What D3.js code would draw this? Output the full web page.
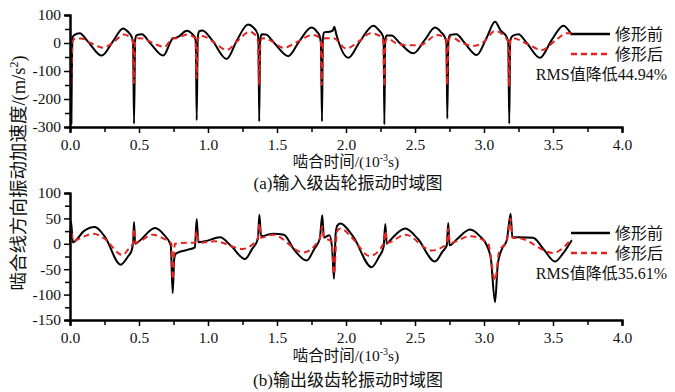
<!DOCTYPE html>
<html>
<head>
<meta charset="utf-8">
<script src="https://cdn.jsdelivr.net/npm/d3@7"></script>
<style>
  body { margin: 0; background: #fff; }
  text { font-family: "Liberation Serif", "Noto Sans CJK SC", serif; fill: #111; }
</style>
</head>
<body>
<svg id="chart" width="675" height="392"></svg>
<script>
// ---- data (t in 10^-3 s, acceleration in m/s^2) ----
var inputBefore = [
  [0.010, -290], [0.018, 20], [0.03, 28], [0.07, 35], [0.13, 5], [0.23, -45], [0.31, 5],
  [0.385, 52], [0.42, 40], [0.447, 22], [0.457, 0], [0.464, -288], [0.472, 10], [0.483, 28],
  [0.52, 31], [0.58, 0], [0.676, -45], [0.73, 5], [0.745, 17], [0.765, 18], [0.79, 24],
  [0.845, 44], [0.89, 30], [0.905, 20], [0.912, 0], [0.918, -276], [0.926, 20], [0.937, 42],
  [0.96, 45], [1.03, 10], [1.135, -57], [1.21, 10], [1.29, 66], [1.33, 55], [1.36, 32],
  [1.366, 0], [1.371, -280], [1.378, 10], [1.389, 31], [1.42, 30], [1.48, 0], [1.582, -47],
  [1.66, 5], [1.75, 55], [1.79, 40], [1.81, 24], [1.818, 0], [1.826, -280], [1.832, 10],
  [1.84, 38], [1.88, 40], [1.905, 45], [1.915, 58], [1.93, 30], [2.017, -53], [2.1, 5],
  [2.198, 62], [2.24, 45], [2.268, 24], [2.273, 0], [2.278, -291], [2.284, 10], [2.295, 27],
  [2.33, 27], [2.39, 0], [2.488, -37], [2.57, 10], [2.645, 55], [2.69, 38], [2.715, 22],
  [2.728, 0], [2.734, -270], [2.742, 10], [2.754, 29], [2.8, 31], [2.86, 0], [2.947, -43],
  [3.02, 20], [3.08, 76], [3.12, 45], [3.164, 22], [3.176, 0], [3.183, -288], [3.19, 10],
  [3.21, 26], [3.25, 31], [3.31, 0], [3.406, -53], [3.49, 10], [3.575, 62], [3.636, 29]
];

var inputAfter = [
  [0.010, -145], [0.018, 5], [0.035, 15], [0.08, 16], [0.15, 0], [0.24, -17], [0.32, 5],
  [0.39, 30], [0.44, 18], [0.455, 5], [0.463, -143], [0.472, 5], [0.49, 17], [0.53, 16],
  [0.6, 0], [0.685, -14], [0.74, 16], [0.77, 17], [0.85, 30], [0.9, 20], [0.91, 5],
  [0.917, -125], [0.926, 10], [0.94, 27], [0.98, 22], [1.05, 0], [1.135, -25], [1.22, 10],
  [1.3, 40], [1.35, 25], [1.362, 5], [1.37, -150], [1.38, 5], [1.395, 17], [1.44, 12],
  [1.55, -17], [1.65, 5], [1.76, 29], [1.81, 18], [1.818, 5], [1.825, -150], [1.834, 5],
  [1.85, 17], [1.91, 17], [2.0, -20], [2.09, 5], [2.18, 35], [2.26, 20], [2.27, 5],
  [2.277, -155], [2.286, 5], [2.3, 17], [2.36, 0], [2.45, -8], [2.54, -7], [2.66, 29],
  [2.72, 18], [2.727, 5], [2.733, -150], [2.742, 5], [2.76, 22], [2.84, 0], [2.93, -10],
  [3.0, 5], [3.08, 43], [3.15, 22], [3.175, 5], [3.182, -155], [3.19, 5], [3.21, 17],
  [3.3, 0], [3.42, -25], [3.52, 10], [3.6, 35], [3.636, 35]
];

var outputBefore = [
  [0.000, 2], [0.008, 44], [0.02, 3], [0.035, 5], [0.1, 25], [0.18, 33], [0.25, 15],
  [0.367, -41], [0.42, -25], [0.447, -13], [0.458, 5], [0.464, 43], [0.472, 0], [0.5, 5],
  [0.616, 31], [0.68, 18], [0.73, -3], [0.744, -97], [0.755, -30], [0.765, -20],
  [0.785, -17], [0.85, -12], [0.905, -7], [0.918, 49], [0.93, 3], [0.98, 5], [1.087, 13],
  [1.17, -5], [1.268, -30], [1.32, -10], [1.362, 10], [1.372, 57], [1.385, 15], [1.473, 20],
  [1.55, 18], [1.62, -10], [1.715, -33], [1.77, -10], [1.81, 10], [1.828, 56], [1.84, 12],
  [1.88, 17], [1.9, -10], [1.913, -69], [1.925, 20], [1.937, 36], [1.96, 40], [2.05, 15],
  [2.186, -46], [2.24, -25], [2.272, -7], [2.285, 39], [2.295, 0], [2.32, 7], [2.43, 30],
  [2.52, 10], [2.645, -35], [2.7, -15], [2.73, -3], [2.741, 41], [2.75, -3], [2.8, 8],
  [2.899, 28], [2.97, 15], [3.02, -3], [3.05, -30], [3.08, -115], [3.1, -40], [3.13, -10],
  [3.165, 7], [3.193, 59], [3.205, 13], [3.25, 13], [3.356, 12], [3.43, -10], [3.514, -35],
  [3.57, -20], [3.636, 7]
];

var outputAfter = [
  [0.000, 0], [0.008, 30], [0.02, 5], [0.05, 8], [0.17, 20], [0.25, 10], [0.38, -22],
  [0.43, -8], [0.455, 0], [0.464, 30], [0.475, 2], [0.6, 18], [0.68, 10], [0.735, 0],
  [0.744, -70], [0.76, 0], [0.85, 2], [0.905, 2], [0.918, 25], [0.935, 2], [1.05, 5],
  [1.25, -10], [1.36, 10], [1.372, 40], [1.385, 12], [1.47, 18], [1.69, -17], [1.81, 10],
  [1.828, 35], [1.84, 12], [1.895, 5], [1.913, -60], [1.935, 25], [1.96, 30], [2.05, 10],
  [2.17, -24], [2.272, 0], [2.285, 25], [2.3, 2], [2.43, 18], [2.62, -13], [2.73, 0],
  [2.741, 30], [2.752, 2], [2.9, 15], [3.03, 0], [3.08, -72], [3.11, -15], [3.165, 5],
  [3.193, 50], [3.205, 12], [3.26, 11], [3.5, -18], [3.636, 10]
];

var xTicks = [0, 0.5, 1.0, 1.5, 2.0, 2.5, 3.0, 3.5, 4.0];
var xMinorTicks = [0.25, 0.75, 1.25, 1.75, 2.25, 2.75, 3.25, 3.75];
var topYTicks = [100, 0, -100, -200, -300];
var topYMinorTicks = [50, -50, -150, -250];
var bottomYTicks = [100, 50, 0, -50, -100, -150];
var bottomYMinorTicks = [75, 25, -25, -75, -125];
var seriesNames = ['修形前', '修形后'];

var RED = '#e3231f';

var svg = d3.select('#chart');

var x = d3.scaleLinear().domain([0, 4]).range([70, 622]);

var line = function(y) {
  return d3.line()
    .x(function(d) { return x(d[0]); })
    .y(function(d) { return y(d[1]); })
    .curve(d3.curveMonotoneX);
};

var styleAxis = function(sel) {
  sel.select('.domain').attr('stroke', '#000').attr('stroke-width', 2);
  sel.selectAll('.tick line').attr('stroke', '#000').attr('stroke-width', 1.5);
  sel.selectAll('.tick text')
    .style('font-family', '"Liberation Serif", serif')
    .style('font-size', '15.5px')
    .attr('fill', '#111');
};

var drawPanel = function(opts) {
  var y = d3.scaleLinear().domain(opts.yDomain).range(opts.yRange);
  var g = svg.append('g');

  g.append('path')
    .datum(opts.before)
    .attr('d', line(y))
    .attr('fill', 'none')
    .attr('stroke', '#000')
    .attr('stroke-width', 2);

  // the dashed red curve sits over the black one, as in the original
  g.append('path')
    .datum(opts.after)
    .attr('d', line(y))
    .attr('fill', 'none')
    .attr('stroke', RED)
    .attr('stroke-width', 2)
    .attr('stroke-dasharray', '6,4');

  // minor ticks
  g.append('g')
    .attr('transform', 'translate(0,' + y.range()[0] + ')')
    .call(d3.axisBottom(x).tickValues(xMinorTicks).tickSize(5).tickFormat(''))
    .call(styleAxis);
  g.append('g')
    .attr('transform', 'translate(70,0)')
    .call(d3.axisLeft(y).tickValues(opts.yMinor).tickSize(5).tickFormat(''))
    .call(styleAxis);

  // major ticks + labels
  g.append('g')
    .attr('transform', 'translate(0,' + y.range()[0] + ')')
    .call(d3.axisBottom(x).tickValues(xTicks).tickSize(6).tickPadding(6)
      .tickFormat(d3.format('.1f')))
    .call(styleAxis);
  g.append('g')
    .attr('transform', 'translate(70,0)')
    .call(d3.axisLeft(y).tickValues(opts.yTicks).tickSize(6).tickPadding(3)
      .tickFormat(function(d) { return String(d); }))
    .call(styleAxis);

  // x axis title
  var t = g.append('text')
    .attr('x', 346)
    .attr('y', opts.titleY)
    .attr('text-anchor', 'middle')
    .style('font-size', '15.5px');
  t.append('tspan').text('啮合时间/(10');
  t.append('tspan').attr('dy', -6).style('font-size', '10px').text('-3');
  t.append('tspan').attr('dy', 6).text('s)');

  g.append('text')
    .attr('x', 348)
    .attr('y', opts.captionY)
    .attr('text-anchor', 'middle')
    .style('font-size', '17px')
    .text(opts.caption);

  // legend
  var lg = g.append('g');
  lg.append('line')
    .attr('x1', 571).attr('x2', 610)
    .attr('y1', opts.legendY).attr('y2', opts.legendY)
    .attr('stroke', '#000').attr('stroke-width', 2.5);
  lg.append('line')
    .attr('x1', 571).attr('x2', 610)
    .attr('y1', opts.legendY + 20).attr('y2', opts.legendY + 20)
    .attr('stroke', RED).attr('stroke-width', 2.5)
    .attr('stroke-dasharray', '6,4');
  lg.selectAll('text.name')
    .data(seriesNames)
    .enter().append('text')
    .attr('class', 'name')
    .attr('x', 615)
    .attr('y', function(d, i) { return opts.legendY + 6 + i * 20; })
    .style('font-size', '16px')
    .text(function(d) { return d; });
  lg.append('text')
    .attr('x', 667)
    .attr('y', opts.legendY + 46)
    .attr('text-anchor', 'end')
    .style('font-size', '16px')
    .text(opts.rms);
};

drawPanel({
  before: inputBefore,
  after: inputAfter,
  yDomain: [-300, 100],
  yRange: [127, 15],
  yTicks: topYTicks,
  yMinor: topYMinorTicks,
  titleY: 167,
  captionY: 189,
  caption: '(a)输入级齿轮振动时域图',
  legendY: 34,
  rms: 'RMS值降低44.94%'
});

drawPanel({
  before: outputBefore,
  after: outputAfter,
  yDomain: [-150, 100],
  yRange: [320, 193],
  yTicks: bottomYTicks,
  yMinor: bottomYMinorTicks,
  titleY: 361,
  captionY: 386,
  caption: '(b)输出级齿轮振动时域图',
  legendY: 233,
  rms: 'RMS值降低35.61%'
});

// shared y axis title
var yl = svg.append('text')
  .attr('transform', 'translate(25,173) rotate(-90)')
  .attr('text-anchor', 'middle')
  .style('font-size', '18.5px');
yl.append('tspan').text('啮合线方向振动加速度/(m/s');
yl.append('tspan').attr('dy', -7).style('font-size', '12px').text('2');
yl.append('tspan').attr('dy', 7).text(')');
</script>
</body>
</html>
